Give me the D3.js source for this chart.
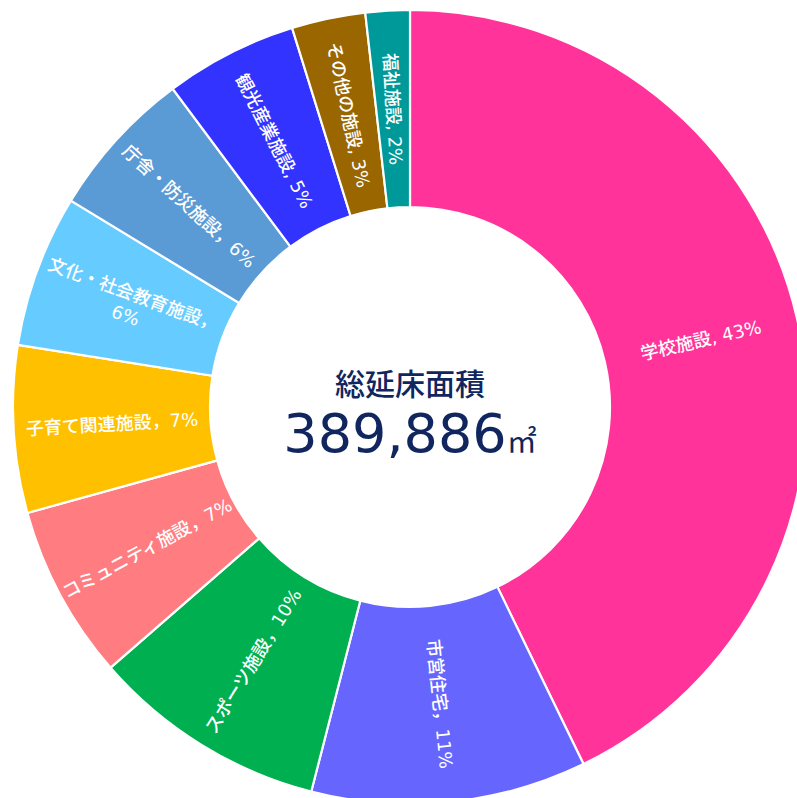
<!DOCTYPE html>
<html lang="ja">
<head>
<meta charset="utf-8">
<script src="https://cdn.jsdelivr.net/npm/d3@7"></script>
<style>
  html, body { margin: 0; padding: 0; background: #fff; }
  svg { display: block; }
</style>
</head>
<body>
<svg id="chart" width="797" height="798"></svg>
<script>
// 施設分類ごとの延床面積の割合 (%)
const categories = ["学校施設", "市営住宅", "スポーツ施設", "コミュニティ施設", "子育て関連施設",
                    "文化・社会教育施設", "庁舎・防災施設", "観光産業施設", "その他の施設", "福祉施設"];
const shares = [42.8, 11.2, 9.6, 7.1, 6.8, 6.2, 6.1, 5.4, 3.0, 1.8];
const colors = ["#ff3399", "#6666ff", "#00b050", "#ff7c80", "#ffc000",
                "#66ccff", "#5b9bd5", "#3333ff", "#996600", "#009999"];
// labels written with a full-width comma in the original
const fullWidthComma = ["市営住宅", "スポーツ施設", "コミュニティ施設", "子育て関連施設",
                        "文化・社会教育施設", "庁舎・防災施設"];
const centerTitle = "総延床面積";
const totalArea = 389886;
const areaUnit = "㎡";

const CX = 410, CY = 407;
const INNER_R = 200, OUTER_R = 397;
const WRAP_AT = 190;

const data = categories.map((c, i) => ({ name: c, share: shares[i], color: colors[i] }));
const total = d3.sum(shares);
const pct = d3.format(".0%");

const svg = d3.select("#chart");
const g = svg.append("g").attr("transform", `translate(${CX},${CY})`);

const pie = d3.pie().sort(null).value(d => d.share);
const arc = d3.arc().innerRadius(INNER_R).outerRadius(OUTER_R);
const arcs = pie(data);

g.selectAll("path.slice")
  .data(arcs)
  .join("path")
    .attr("class", "slice")
    .attr("d", arc)
    .attr("fill", d => d.data.color)
    .attr("stroke", "#fff")
    .attr("stroke-width", 2.2);

// radial labels, flipped on the left half so they stay readable
const labels = g.selectAll("text.label")
  .data(arcs)
  .join("text")
    .attr("class", "label")
    .attr("transform", d => {
      const [x, y] = arc.centroid(d);
      const a = (d.startAngle + d.endAngle) / 2 * 180 / Math.PI;
      const rot = a < 180 ? a - 90 : a - 270;
      return `translate(${x},${y}) rotate(${rot})`;
    })
    .attr("text-anchor", "middle")
    .attr("dominant-baseline", "central")
    .attr("fill", "#fff")
    .style("font-family", "'DejaVu Sans', 'Noto Sans CJK JP', sans-serif")
    .style("font-size", "18px")
    .style("font-weight", 500);

labels.each(function(d) {
  const t = d3.select(this);
  const sep = fullWidthComma.includes(d.data.name) ? "，" : ", ";
  const head = d.data.name + sep;
  const tail = pct(d.data.share / total);
  t.text(head + tail);
  if (this.getComputedTextLength() > WRAP_AT) {
    t.text(null);
    t.append("tspan").attr("x", 0).attr("dy", "-0.62em").text(head);
    t.append("tspan").attr("x", 0).attr("dy", "1.25em").text(tail);
  }
});

// centre caption
const navy = "#11265e";
g.append("text")
  .attr("x", 0).attr("y", -12)
  .attr("text-anchor", "middle")
  .attr("fill", navy)
  .style("font-family", "'Noto Sans CJK JP', sans-serif")
  .style("font-size", "30px")
  .style("font-weight", 500)
  .text(centerTitle);

const num = g.append("text")
  .attr("x", 0).attr("y", 45)
  .attr("text-anchor", "middle")
  .attr("fill", navy);
num.append("tspan")
  .style("font-family", "'DejaVu Sans', sans-serif")
  .style("font-size", "54px")
  .text(d3.format(",")(totalArea));
num.append("tspan")
  .style("font-family", "'Noto Sans CJK JP', sans-serif")
  .style("font-size", "30px")
  .text(areaUnit);
</script>
</body>
</html>
